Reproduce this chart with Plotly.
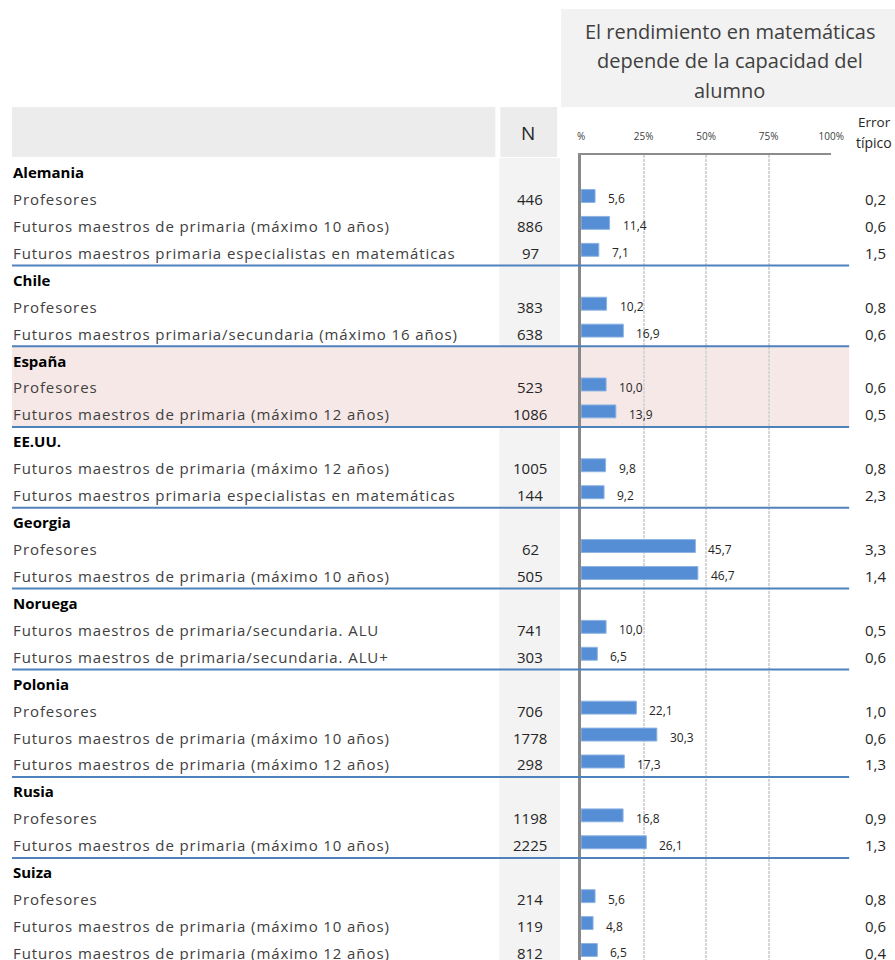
import plotly.graph_objects as go

# ---------------- data ----------------
countries = ["Alemania", "Chile", "España", "EE.UU.", "Georgia", "Noruega", "Polonia", "Rusia", "Suiza"]
group_sizes = [3, 2, 2, 2, 2, 2, 3, 2, 3]
subgroups = [
    "Profesores",
    "Futuros maestros de primaria (máximo 10 años)",
    "Futuros maestros primaria especialistas en matemáticas",
    "Profesores",
    "Futuros maestros primaria/secundaria (máximo 16 años)",
    "Profesores",
    "Futuros maestros de primaria (máximo 12 años)",
    "Futuros maestros de primaria (máximo 12 años)",
    "Futuros maestros primaria especialistas en matemáticas",
    "Profesores",
    "Futuros maestros de primaria (máximo 10 años)",
    "Futuros maestros de primaria/secundaria. ALU",
    "Futuros maestros de primaria/secundaria. ALU+",
    "Profesores",
    "Futuros maestros de primaria (máximo 10 años)",
    "Futuros maestros de primaria (máximo 12 años)",
    "Profesores",
    "Futuros maestros de primaria (máximo 10 años)",
    "Profesores",
    "Futuros maestros de primaria (máximo 10 años)",
    "Futuros maestros de primaria (máximo 12 años)",
]
n_values = [446, 886, 97, 383, 638, 523, 1086, 1005, 144, 62, 505, 741, 303, 706, 1778, 298, 1198, 2225, 214, 119, 812]
pct_values = [5.6, 11.4, 7.1, 10.2, 16.9, 10.0, 13.9, 9.8, 9.2, 45.7, 46.7, 10.0, 6.5, 22.1, 30.3, 17.3, 16.8, 26.1, 5.6, 4.8, 6.5]
se_values = [0.2, 0.6, 1.5, 0.8, 0.6, 0.6, 0.5, 0.8, 2.3, 3.3, 1.4, 0.5, 0.6, 1.0, 0.6, 1.3, 0.9, 1.3, 0.8, 0.6, 0.4]
tick_values = [0, 25, 50, 75, 100]
tick_labels = ["%", "25%", "50%", "75%", "100%"]
title_lines = ["El rendimiento en matemáticas", "depende de la capacidad del", "alumno"]
highlight_country = "España"

# ---------------- layout helpers ----------------
W, H = 895, 960          # design coordinates
W_FIG = 909              # figure width (the page photo is fitted back to 895 px)
ROW0, ROWH, FRAME_TOP = 172, 26.93, 155
y_top = (FRAME_TOP - ROW0) / ROWH
y_bot = (H - ROW0) / ROWH


def px(x):
    return x / W


def py(y):
    return 1 - y / H


def fmt(v):
    return f"{v:.1f}".replace(".", ",")


def spaced(t):
    return f'<span style="letter-spacing:0.9px">{t}</span>'


FONT = "Open Sans"
LABEL_COLOR = "#404040"
LINE_BLUE = "#4f81bd"

# row indices
header_rows = []
data_rows = []
r = 0
for size in group_sizes:
    header_rows.append(r)
    r += 1
    for _ in range(size):
        data_rows.append(r)
        r += 1

fig = go.Figure()
fig.add_bar(
    x=pct_values,
    y=data_rows,
    orientation="h",
    width=0.48,
    offset=-0.35,
    marker=dict(color="#558ed5", line=dict(color="#8db3e2", width=1)),
    hoverinfo="skip",
)

shapes = []
annotations = []

# background boxes
shapes.append(dict(type="rect", xref="paper", yref="paper", x0=px(559), x1=1, y0=py(107), y1=py(9),
                   fillcolor="#f2f2f2", line=dict(width=0), layer="below"))
shapes.append(dict(type="rect", xref="paper", yref="paper", x0=px(8), x1=px(493), y0=py(157), y1=py(107),
                   fillcolor="#ececec", line=dict(width=0), layer="below"))
shapes.append(dict(type="rect", xref="paper", yref="paper", x0=px(498), x1=px(555), y0=py(157), y1=py(107),
                   fillcolor="#ececec", line=dict(width=0), layer="below"))
shapes.append(dict(type="rect", xref="paper", yref="paper", x0=px(497), x1=px(558), y0=0, y1=py(158),
                   fillcolor="#f3f3f3", line=dict(width=0), layer="below"))

# highlight band + separators
for gi, (c, hr) in enumerate(zip(countries, header_rows)):
    if c == highlight_country:
        end = hr + group_sizes[gi] + 1
        shapes.append(dict(type="rect", xref="paper", yref="y", x0=px(8), x1=px(848),
                           y0=hr - 0.53, y1=end - 0.53, fillcolor="#f6e8e7",
                           line=dict(width=0), layer="below"))
for gi, hr in enumerate(header_rows):
    if gi == 0:
        continue
    shapes.append(dict(type="line", xref="paper", yref="y", x0=px(8), x1=px(848),
                       y0=hr - 0.53, y1=hr - 0.53, line=dict(color=LINE_BLUE, width=2), layer="above"))

# country headers
for c, hr in zip(countries, header_rows):
    annotations.append(dict(x=px(7), y=hr, xref="paper", yref="y", text=f"<b>{c}</b>",
                            xanchor="left", yanchor="middle", showarrow=False,
                            font=dict(family=FONT, size=15, color="#000000")))

# subgroup rows
for lab, n, p, se, row in zip(subgroups, n_values, pct_values, se_values, data_rows):
    annotations.append(dict(x=px(7), y=row, xref="paper", yref="y", text=spaced(lab),
                            xanchor="left", yanchor="middle", showarrow=False,
                            font=dict(family=FONT, size=15, color=LABEL_COLOR)))
    annotations.append(dict(x=px(528), y=row, xref="paper", yref="y", text=str(n),
                            xanchor="center", yanchor="middle", showarrow=False,
                            font=dict(family=FONT, size=15, color="#262626")))
    annotations.append(dict(x=p, y=row, xref="x", yref="y", text=fmt(p), xshift=11,
                            xanchor="left", yanchor="middle", showarrow=False,
                            font=dict(family=FONT, size=12, color="#262626")))
    annotations.append(dict(x=px(887), y=row, xref="paper", yref="y", text=fmt(se),
                            xanchor="right", yanchor="middle", showarrow=False,
                            font=dict(family=FONT, size=15, color="#262626")))

# title
for i, line in enumerate(title_lines):
    annotations.append(dict(x=px(728), y=py(31 + 30 * i), xref="paper", yref="paper", text=line,
                            xanchor="center", yanchor="middle", showarrow=False,
                            font=dict(family=FONT, size=20, color="#404040")))

annotations.append(dict(x=px(526), y=py(133), xref="paper", yref="paper", text="N",
                        xanchor="center", yanchor="middle", showarrow=False,
                        font=dict(family=FONT, size=19, color="#262626")))
annotations.append(dict(x=px(873), y=py(122), xref="paper", yref="paper", text="Error",
                        xanchor="center", yanchor="middle", showarrow=False,
                        font=dict(family=FONT, size=13.5, color="#262626")))
annotations.append(dict(x=px(873), y=py(143), xref="paper", yref="paper", text="típico",
                        xanchor="center", yanchor="middle", showarrow=False,
                        font=dict(family=FONT, size=14, color="#262626")))

fig.update_layout(
    width=W_FIG, height=H, autosize=False,
    margin=dict(l=0, r=0, t=0, b=0, pad=0),
    paper_bgcolor="white", plot_bgcolor="rgba(0,0,0,0)",
    showlegend=False,
    shapes=shapes, annotations=annotations,
    xaxis=dict(domain=[px(579), px(830)], range=[0, 100], side="top",
               tickvals=tick_values, ticktext=tick_labels,
               tickfont=dict(family=FONT, size=10, color="#404040"),
               ticks="outside", ticklen=9, tickcolor="rgba(0,0,0,0)",
               showgrid=True, gridcolor="#d6d6d6", gridwidth=2, griddash="3px,1px",
               showline=True, linecolor="#8c8c8c", linewidth=2, zeroline=False,
               fixedrange=True),
    yaxis=dict(domain=[0, py(FRAME_TOP)], range=[y_bot, y_top],
               showticklabels=False, showgrid=False, zeroline=False, ticks="",
               showline=True, linecolor="#888888", linewidth=2.5, fixedrange=True),
)

fig.write_html(
    "out.html",
    config={"displayModeBar": False, "responsive": False},
    post_script="document.documentElement.style.margin='0';document.documentElement.style.overflow='hidden';"
                "document.body.style.margin='0';document.body.style.padding='0';"
                "document.body.style.overflow='hidden';",
)
